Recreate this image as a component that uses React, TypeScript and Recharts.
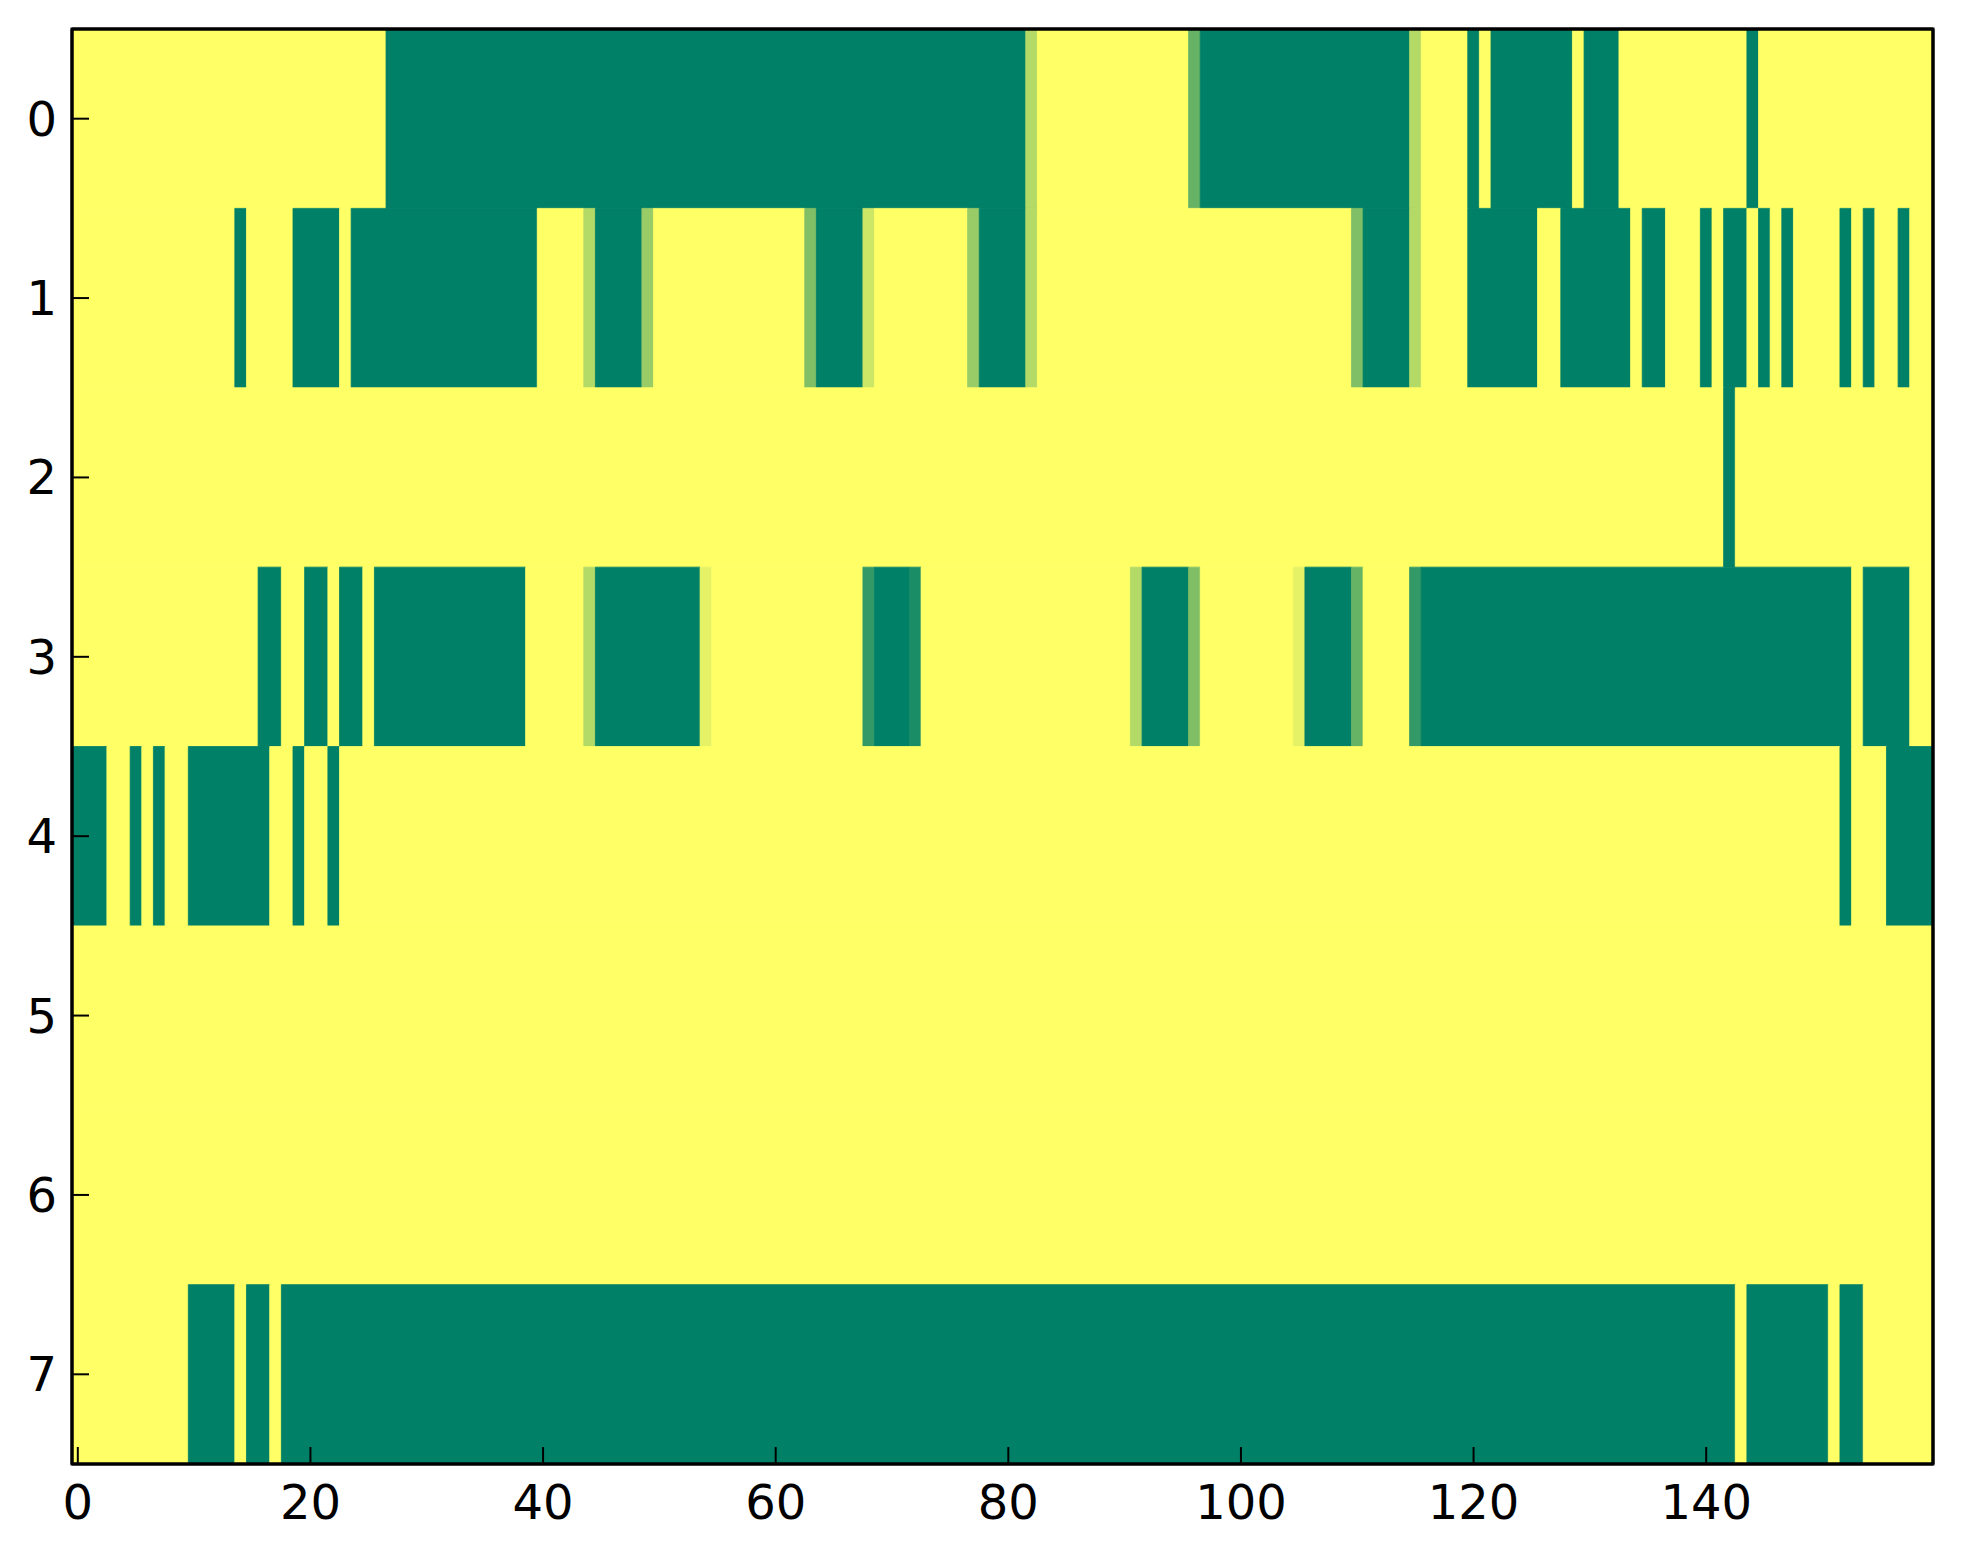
import React from "react";
import { ComposedChart, XAxis, YAxis, ReferenceArea, Scatter } from "recharts";

// y categories (rows) and x tick labels
const rowIds = [0, 1, 2, 3, 4, 5, 6, 7];
const xTicks = [0, 20, 40, 60, 80, 100, 120, 140];

// 160 cells per row, written in groups of ten.
// Y = 1 (yellow), G = 0 (green), a digit = value in tenths
const row0 =
  "YYYYYYYYYY YYYYYYYYYY YYYYYYYGGG GGGGGGGGGG GGGGGGGGGG GGGGGGGGGG GGGGGGGGGG GGGGGGGGGG GG7YYYYYYY YYYYYY4GGG GGGGGGGGGG GGGGG7YYYY GYGGGGGGGY GGGYYYYYYY YYYYGYYYYY YYYYYYYYYY";
const row1 =
  "YYYYYYYYYY YYYYGYYYYG GGGYGGGGGG GGGGGGGGGG YYYY7GGGG6 YYYYYYYYYY YYY5GGGG8Y YYYYYYY6GG GG7YYYYYYY YYYYYYYYYY YYYYYYYYYY 5GGGG7YYYY GGGGGGYYGG GGGGYGGYYY GYGGYGYGYY YYGYGYYGYY";
const row2 =
  "YYYYYYYYYY YYYYYYYYYY YYYYYYYYYY YYYYYYYYYY YYYYYYYYYY YYYYYYYYYY YYYYYYYYYY YYYYYYYYYY YYYYYYYYYY YYYYYYYYYY YYYYYYYYYY YYYYYYYYYY YYYYYYYYYY YYYYYYYYYY YYGYYYYYYY YYYYYYYYYY";
const row3 =
  "YYYYYYYYYY YYYYYYGGYY GGYGGYGGGG GGGGGGGGGY YYYY7GGGGG GGGG9YYYYY YYYYYYYY2G GG1YYYYYYY YYYYYYYYYY Y7GGGG5YYY YYYYY9GGGG 4YYYY2GGGG GGGGGGGGGG GGGGGGGGGG GGGGGGGGGG GGGYGGGGYY";
const row4 =
  "GGGYYGYGYY GGGGGGGYYG YYGYYYYYYY YYYYYYYYYY YYYYYYYYYY YYYYYYYYYY YYYYYYYYYY YYYYYYYYYY YYYYYYYYYY YYYYYYYYYY YYYYYYYYYY YYYYYYYYYY YYYYYYYYYY YYYYYYYYYY YYYYYYYYYY YYGYYYGGGG";
const row5 =
  "YYYYYYYYYY YYYYYYYYYY YYYYYYYYYY YYYYYYYYYY YYYYYYYYYY YYYYYYYYYY YYYYYYYYYY YYYYYYYYYY YYYYYYYYYY YYYYYYYYYY YYYYYYYYYY YYYYYYYYYY YYYYYYYYYY YYYYYYYYYY YYYYYYYYYY YYYYYYYYYY";
const row6 =
  "YYYYYYYYYY YYYYYYYYYY YYYYYYYYYY YYYYYYYYYY YYYYYYYYYY YYYYYYYYYY YYYYYYYYYY YYYYYYYYYY YYYYYYYYYY YYYYYYYYYY YYYYYYYYYY YYYYYYYYYY YYYYYYYYYY YYYYYYYYYY YYYYYYYYYY YYYYYYYYYY";
const row7 =
  "YYYYYYYYYY GGGGYGGYGG GGGGGGGGGG GGGGGGGGGG GGGGGGGGGG GGGGGGGGGG GGGGGGGGGG GGGGGGGGGG GGGGGGGGGG GGGGGGGGGG GGGGGGGGGG GGGGGGGGGG GGGGGGGGGG GGGGGGGGGG GGGYGGGGGG GYGGYYYYYY";

const rows = [row0, row1, row2, row3, row4, row5, row6, row7];

const parseRow = (s: string): number[] =>
  s
    .replace(/\s+/g, "")
    .split("")
    .map((c) => (c === "Y" ? 1 : c === "G" ? 0 : Number(c) / 10));

// matplotlib "summer" colormap
const summer = (v: number) => {
  const r = Math.round(255 * v);
  const g = Math.round(255 * (0.5 + 0.5 * v));
  return `rgb(${r},${g},102)`;
};

type Run = { row: number; x1: number; x2: number; value: number; x: number; y: number };

const runs: Run[] = [];
rows.forEach((s, ri) => {
  const vals = parseRow(s);
  let start = 0;
  for (let i = 1; i <= vals.length; i++) {
    if (i === vals.length || vals[i] !== vals[start]) {
      runs.push({
        row: rowIds[ri],
        x1: start - 0.5,
        x2: i - 0.5,
        value: vals[start],
        x: (start + i - 1) / 2,
        y: rowIds[ri],
      });
      start = i;
    }
  }
});

const font = { fontFamily: "DejaVu Sans", fontSize: 48, fill: "#000" };
const spine = { stroke: "#000", strokeWidth: 3 };
const tickLine = { stroke: "#000", strokeWidth: 2 };

export default function App() {
  return (
    <div style={{ width: 1963, height: 1564, background: "#fff" }}>
      <style>{"body{margin:0}"}</style>
      <ComposedChart
        width={1963}
        height={1564}
        margin={{ top: 28, right: 29, bottom: 40, left: 0 }}
      >
        <XAxis
          xAxisId="b"
          type="number"
          dataKey="x"
          domain={[-0.5, 159.5]}
          ticks={xTicks}
          allowDataOverflow
          height={60}
          tickSize={-17}
          tickMargin={38}
          axisLine={spine}
          tickLine={tickLine}
          tick={font}
          interval={0}
        />
        <XAxis
          xAxisId="t"
          orientation="top"
          type="number"
          dataKey="x"
          domain={[-0.5, 159.5]}
          ticks={xTicks}
          allowDataOverflow
          height={1}
          tickSize={-17}
          axisLine={spine}
          tickLine={tickLine}
          tick={false}
          interval={0}
        />
        <YAxis
          yAxisId="l"
          type="number"
          dataKey="y"
          domain={[-0.5, 7.5]}
          ticks={rowIds}
          reversed
          allowDataOverflow
          width={72}
          tickSize={-17}
          tickMargin={32}
          axisLine={spine}
          tickLine={tickLine}
          tick={font}
          interval={0}
        />
        <YAxis
          yAxisId="r"
          orientation="right"
          type="number"
          dataKey="y"
          domain={[-0.5, 7.5]}
          ticks={rowIds}
          reversed
          allowDataOverflow
          width={1}
          tickSize={-17}
          axisLine={spine}
          tickLine={tickLine}
          tick={false}
          interval={0}
        />
        {runs.map((r, i) => (
          <ReferenceArea
            key={i}
            xAxisId="b"
            yAxisId="l"
            x1={r.x1}
            x2={r.x2}
            y1={r.row - 0.5}
            y2={r.row + 0.5}
            fill={summer(r.value)}
            fillOpacity={1}
            stroke={summer(r.value)}
            strokeWidth={0.8}
            ifOverflow="visible"
          />
        ))}
        <ReferenceArea
          xAxisId="b"
          yAxisId="l"
          x1={-0.5}
          x2={159.5}
          y1={-0.5}
          y2={7.5}
          fill="none"
          stroke="#000"
          strokeWidth={3}
          ifOverflow="visible"
        />
        <Scatter
          xAxisId="b"
          yAxisId="l"
          data={runs}
          dataKey="y"
          isAnimationActive={false}
          shape={() => <g />}
        />
      </ComposedChart>
    </div>
  );
}
